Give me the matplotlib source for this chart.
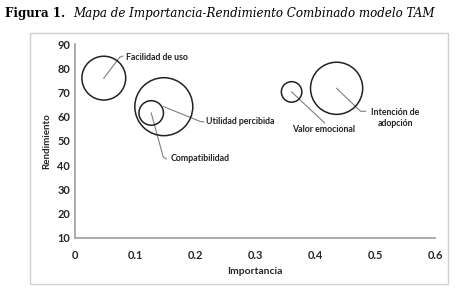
import matplotlib
matplotlib.use("Agg")
import matplotlib.pyplot as plt
from matplotlib.patches import Rectangle
import numpy as np

# Data
categories = ["Facilidad de uso", "Utilidad percibida", "Compatibilidad",
              "Valor emocional", "Intención de\nadopción"]
importancia = [0.048, 0.148, 0.127, 0.361, 0.436]
rendimiento = [76.0, 64.2, 61.6, 70.3, 71.8]
tamano = [0.48, 0.84, 0.15, 0.105, 0.68]   # relative bubble area

x_ticks = [0, 0.1, 0.2, 0.3, 0.4, 0.5, 0.6]
x_tick_labels = ["0", "0.1", "0.2", "0.3", "0.4", "0.5", "0.6"]
y_ticks = [10, 20, 30, 40, 50, 60, 70, 80, 90]

W, H = 461, 290
fig = plt.figure(figsize=(W / 100, H / 100), dpi=100)

# chart frame
fig.patches.append(Rectangle((30 / W, 1 - 284 / H), (448 - 30) / W, (284 - 33) / H,
                             transform=fig.transFigure, fill=False,
                             edgecolor="#d0d0d0", linewidth=1.0))

# title
fig.text(5 / W, 1 - 13 / H, "Figura 1.", fontfamily="DejaVu Serif",
         fontweight="bold", fontsize=8.6, va="center", ha="left")
fig.text(73 / W, 1 - 13 / H,
         "Mapa de Importancia-Rendimiento Combinado modelo TAM",
         fontfamily="DejaVu Serif", fontstyle="italic", fontsize=8.6,
         va="center", ha="left")

ax = fig.add_axes([75 / W, 1 - 237.7 / H, (435 - 75) / W, (237.7 - 44.3) / H])
ax.set_xlim(0, 0.6)
ax.set_ylim(10, 90)
ax.patch.set_alpha(0)

for s in ["top", "right"]:
    ax.spines[s].set_visible(False)
for s in ["left", "bottom"]:
    ax.spines[s].set_color("#a6a6a6")
    ax.spines[s].set_linewidth(1.3)

tickfont = dict(family="Lato", weight="bold", size=7.9)
ax.set_xticks(x_ticks)
ax.set_xticklabels(x_tick_labels, fontdict=tickfont, color="#262626")
ax.set_yticks(y_ticks)
ax.set_yticklabels([str(v) for v in y_ticks], fontdict=tickfont, color="#262626")
ax.tick_params(axis="x", length=0, pad=9)
ax.tick_params(axis="y", length=0, pad=3.5)

ax.set_xlabel("Importancia", fontfamily="Lato", fontweight="bold", fontsize=7.5,
              color="#262626", labelpad=4)
ax.set_ylabel("Rendimiento", fontfamily="Lato", fontweight="bold", fontsize=7,
              color="#262626", labelpad=4)

sizes = np.array(tamano) * 2074
ax.scatter(importancia, rendimiento, s=sizes, facecolors="none",
           edgecolors="#222222", linewidths=1.1, zorder=3, clip_on=False)

# label layout (pixel offsets from bubble centre): bend point, line end, text anchor
lab_bend = [(16, 21), (37, -15), (12, -44), (33, -31), (24, -23)]
lab_end = [(19, 22), (40, -15), (15, -46), (33, -31), (29, -23)]
lab_text = [(22, 21), (42, -15), (19, -46), (32, -38), (59, -30)]
lab_ha = ["left", "left", "left", "center", "center"]

tr = ax.transData
for i, name in enumerate(categories):
    x0, y0 = tr.transform((importancia[i], rendimiento[i]))
    bx, by = lab_bend[i]
    ex, ey = lab_end[i]
    tx, ty = lab_text[i]
    pts = tr.inverted().transform([(x0, y0), (x0 + bx, y0 + by), (x0 + ex, y0 + ey)])
    ax.plot(pts[:, 0], pts[:, 1], color="#7f7f7f", lw=0.8, clip_on=False, zorder=2)
    ax.annotate(name, xy=(importancia[i], rendimiento[i]),
                xytext=(tx * 0.72, ty * 0.72), textcoords="offset points",
                ha=lab_ha[i], va="center", fontfamily="Lato", fontweight="bold",
                fontsize=6.3, color="#222222", linespacing=1.3)

fig.savefig("out.png", dpi=100)
